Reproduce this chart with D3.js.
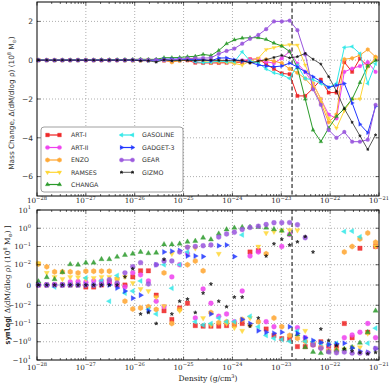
<!DOCTYPE html>
<html><head><meta charset="utf-8">
<script src="https://cdn.jsdelivr.net/npm/d3@7"></script>
<style>body{margin:0;background:#fff}svg{display:block}</style>
</head><body><svg id="c" width="390" height="387"></svg>
<script>
// ---------------- data ----------------
const logDensity = [-27.97,-27.80,-27.64,-27.48,-27.32,-27.16,-27.00,-26.84,-26.68,-26.52,-26.36,-26.20,-26.04,-25.88,-25.72,-25.56,-25.40,-25.24,-25.08,-24.92,-24.76,-24.60,-24.44,-24.28,-24.12,-23.96,-23.80,-23.64,-23.47,-23.31,-23.15,-22.99,-22.83,-22.67,-22.51,-22.35,-22.19,-22.03,-21.87,-21.71,-21.55,-21.39,-21.23,-21.07];
const codeNames = ["ART-I","ART-II","ENZO","RAMSES","CHANGA","GASOLINE","GADGET-3","GEAR","GIZMO"];
const artI = [0,0,0,0,0,0,-0.001,-0.001,0,0.0015,0,0,0.004,0.007,0.007,-0.005,-0.02,-0.06,-0.014,-0.009,-0.13,-0.14,-0.14,-0.14,-0.13,-0.12,-0.1,0.05,0.06,-0.2,-0.45,-0.68,-0.72,-1.84,-1.84,-1.45,-1.0,-1.67,-1.67,-0.1,-0.6,0.08,-0.3,0.1];
const artII = [0,0,0,0,0.0015,0.0017,0.0014,0.002,0.002,0.001,0,-0.001,0.006,0.005,0.002,-0.008,-0.012,0.004,0.01,0.04,-0.05,-0.002,-0.009,-0.04,-0.03,-0.08,-0.003,0.03,0.05,-0.08,-0.15,0.1,0.45,-0.17,-0.6,-1.2,-2.0,-2.8,-3.0,-0.6,-0.43,-0.3,-0.1,-0.6];
const enzo = [0.011,0.009,0.0065,0.0065,0.0065,0.006,0.0068,0.0068,0.0068,0.0068,0.003,-0.008,-0.016,-0.014,-0.012,-0.017,0.006,-0.1,-0.017,0.01,0.016,0.007,-0.025,-0.09,-0.08,-0.1,-0.06,-0.12,-0.08,0.04,-0.05,-0.15,-0.45,-0.65,-0.95,-1.4,-2.2,-3.2,-2.8,0.05,0.1,0.26,0.55,0.17];
const ramses = [0.012,0.006,0.004,0.003,0.0039,0.0038,0.003,0.0035,0.004,0.004,0.003,0.004,0.001,-0.002,-0.003,-0.006,-0.011,0.04,-0.02,0.09,0.08,-0.05,-0.12,0.04,-0.1,-0.17,-0.25,-0.05,0.1,0.55,0.65,0.75,0.8,0.78,-0.25,-1.2,-2.0,-3.0,-3.5,-2.6,-2.0,-2.0,-0.35,0.1];
const changa = [0.0017,0.0038,0.0028,0.0063,0.0105,0.01,0.013,0.013,0.02,0.02,0.027,0.034,0.04,0.05,0.042,0.045,0.13,0.13,0.14,0.18,0.2,0.3,0.24,0.5,0.85,1.05,1.14,1.16,1.16,1.07,0.88,0.73,0.45,-0.4,-2.0,-3.6,-4.2,-3.5,-2.9,-2.5,-2.0,-1.15,-0.3,-0.02];
const gasoline = [0,0,-0.001,0,0,0,0.0035,0,0.002,-0.008,0.0047,-0.004,-0.003,0.002,-0.017,-0.03,0.01,-0.0016,0.01,0.05,-0.08,-0.12,-0.1,-0.05,-0.08,-0.08,0.43,-0.04,-0.15,-0.45,-0.65,-0.75,-0.94,-0.26,-0.95,-1.0,-1.2,-1.4,-1.2,0.66,0.7,0.34,-1.2,-0.18];
const gadget3 = [0,0,0,0,0,0,0,0,0,0,-0.0015,-0.003,-0.0065,-0.005,-0.02,0.01,0.05,0.055,0.06,0.03,0.03,0.028,-0.03,0.11,0.12,0.028,-0.06,-0.1,-0.25,-0.3,-0.34,-0.3,-0.15,-0.35,-0.6,-0.85,-1.1,-1.4,-1.3,-1.2,-2.2,-3.3,-3.74,-2.38];
const gear = [0,0,0,0,0,0,0,0,0.0005,0.0026,0.001,0.006,0.009,0.013,0.0005,0.01,0.016,0.016,0.05,0.09,0.1,0.11,0.12,0.33,0.48,0.6,0.85,1.1,1.3,1.6,2.0,2.0,2.04,1.55,0.3,-1.5,-2.3,-3.6,-4.0,-3.7,-4.2,-4.2,-4.1,-2.3];
const gizmo = [0,0,0,0,0,0,0,0,0,0,0,0.004,0.008,-0.03,-0.025,-0.1,0.02,-0.03,-0.008,-0.007,-0.025,-0.004,0.0005,-0.008,-0.012,-0.006,-0.006,-0.14,-0.05,0.03,0.14,0.25,0.12,0.18,0.35,0.05,-0.2,-0.85,-1.6,-2.5,-3.2,-3.9,-4.6,-3.85];
const seriesValues = [artI, artII, enzo, ramses, changa, gasoline, gadget3, gear, gizmo];
const refLogDensity = -22.78;
const topYTicks = [2, 0, -2, -4, -6];
const symTicks = [10, 1, 0.1, 0.01, 0, -0.01, -0.1, -1, -10];
const symTickLabels = [["10","1"],["10","0"],["10","-1"],["10","-2"],["0",""],["-10","-2"],["-10","-1"],["-10","0"],["-10","1"]];
const xDecades = [-28,-27,-26,-25,-24,-23,-22,-21];

// ---------------- styles ----------------
const colors = ["#ee2020","#ee40ee","#ffa52e","#ffd633","#2a9a2a","#30e8e8","#2035ff","#9955dd","#111111"];
const markers = ["square","circle","hexagon","tridown","triup","trileft","triright","circle","star"];
const markerScale = {square:1, circle:1, hexagon:1, tridown:0.6, triup:0.6, trileft:0.6, triright:0.6, star:0.2};

const svg = d3.select("#c");
svg.append("rect").attr("width",390).attr("height",387).attr("fill","#fff");

const L = 37, R = 379;
const x = d3.scaleLog().domain([1e-28,1e-21]).range([L,R]);
const yTop = d3.scaleLinear().domain([-7,3]).range([196,2]);
const LT = 0.01, LS = 1/(1-0.1);
function symT(v){const a=Math.abs(v); return a<=LT ? v/LT*LS : Math.sign(v)*(LS+Math.log10(a/LT));}
const yBotT = d3.scaleLinear().domain([-(LS+3),LS+3]).range([360,210]);
const yBot = v => yBotT(symT(v));

const hexagon = {draw(ctx,size){const r=Math.sqrt(size/(1.5*Math.sqrt(3)));for(let k=0;k<6;k++){const a=Math.PI/6+k*Math.PI/3;const px=r*Math.cos(a),py=r*Math.sin(a);k?ctx.lineTo(px,py):ctx.moveTo(px,py);}ctx.closePath();}};
function symbolFor(m,size){
  const t = m==="square"?d3.symbolSquare: m==="circle"?d3.symbolCircle: m==="hexagon"?hexagon: m==="star"?d3.symbolStar: d3.symbolTriangle;
  return d3.symbol().type(t).size(size*markerScale[m])();
}
function rotFor(m){return m==="tridown"?180:m==="trileft"?-90:m==="triright"?90:0;}

function drawMarker(g, m, cx, cy, size, color, op){
  g.append("path").attr("d",symbolFor(m,size))
   .attr("transform",`translate(${cx},${cy}) rotate(${rotFor(m)})`)
   .attr("fill",color).attr("fill-opacity",op).attr("stroke",color).attr("stroke-width",m==="star"?0.5:0.3);
}

const serif = "'DejaVu Serif', serif";
const sans = "'DejaVu Sans', sans-serif";

function panelFrame(top, bottom, yTicksPx){
  const g = svg.append("g");
  xDecades.forEach(d=>{
    const px = x(Math.pow(10,d));
    if(px>L+1 && px<R-1) g.append("line").attr("x1",px).attr("x2",px).attr("y1",top).attr("y2",bottom)
      .attr("stroke","#999").attr("stroke-width",0.8).attr("stroke-dasharray","1,2");
  });
  yTicksPx.forEach(py=>{
    if(py>top+1 && py<bottom-1) g.append("line").attr("x1",L).attr("x2",R).attr("y1",py).attr("y2",py)
      .attr("stroke","#999").attr("stroke-width",0.8).attr("stroke-dasharray","1,2");
  });
  return g;
}
function panelAxes(top, bottom, yTicksPx, labelDy){
  const g = svg.append("g");
  for(let d=-28; d<=-21; d++){
    for(let k=1;k<=9;k++){
      if(d===-21 && k>1) break;
      const px = x(k*Math.pow(10,d));
      const len = k===1?3.5:2;
      g.append("line").attr("x1",px).attr("x2",px).attr("y1",bottom).attr("y2",bottom-len).attr("stroke","#000").attr("stroke-width",0.6);
      g.append("line").attr("x1",px).attr("x2",px).attr("y1",top).attr("y2",top+len).attr("stroke","#000").attr("stroke-width",0.6);
    }
  }
  yTicksPx.forEach(py=>{
    g.append("line").attr("x1",L).attr("x2",L+3.5).attr("y1",py).attr("y2",py).attr("stroke","#000").attr("stroke-width",0.6);
    g.append("line").attr("x1",R).attr("x2",R-3.5).attr("y1",py).attr("y2",py).attr("stroke","#000").attr("stroke-width",0.6);
  });
  g.append("rect").attr("x",L).attr("y",top).attr("width",R-L).attr("height",bottom-top)
   .attr("fill","none").attr("stroke","#000").attr("stroke-width",1);
  xDecades.forEach(d=>{
    const t = g.append("text").attr("x",x(Math.pow(10,d))).attr("y",bottom+labelDy)
      .attr("text-anchor","middle").attr("font-family",serif).attr("font-size",7.2).attr("fill","#222");
    t.append("tspan").text("10");
    t.append("tspan").attr("dy",-3.3).attr("font-size",5.2).text("\u2212"+(-d));
  });
  return g;
}

// ---------- TOP PANEL ----------
const topTickPx = topYTicks.map(v=>yTop(v));
panelFrame(2,196,topTickPx);
svg.append("line").attr("x1",x(Math.pow(10,refLogDensity))).attr("x2",x(Math.pow(10,refLogDensity)))
  .attr("y1",2).attr("y2",196).attr("stroke","#000").attr("stroke-width",1).attr("stroke-dasharray","4,2.5");
const lineTop = d3.line().x((d,i)=>x(Math.pow(10,logDensity[i]))).y(d=>yTop(d));
seriesValues.forEach((vals,si)=>{
  const g = svg.append("g");
  g.append("path").attr("d",lineTop(vals)).attr("fill","none").attr("stroke",colors[si])
    .attr("stroke-width", si===8?0.7:1);
  vals.forEach((v,i)=>drawMarker(g, markers[si], x(Math.pow(10,logDensity[i])), yTop(v), 11, colors[si], 0.9));
});
panelAxes(2,196,topTickPx,7.3);
topYTicks.forEach(v=>{
  svg.append("text").attr("x",33).attr("y",yTop(v)+2.7).attr("text-anchor","end")
   .attr("font-family",sans).attr("font-size",7.5).attr("fill","#333").text(v<0?"\u2212"+(-v):String(v));
});
{
  const t = svg.append("text").attr("transform","translate(14,103) rotate(-90)").attr("text-anchor","middle")
    .attr("font-family",sans).attr("font-size",7.3).attr("fill","#333");
  t.append("tspan").text("Mass Change, \u0394(dM/dlog \u03c1) (10");
  t.append("tspan").attr("dy",-3).attr("font-size",5).text("8");
  t.append("tspan").attr("dy",3).text(" M");
  t.append("tspan").attr("dy",1.5).attr("font-size",5).text("\u2299");
  t.append("tspan").attr("dy",-1.5).text(")");
}
// legend
{
  const g = svg.append("g");
  g.append("rect").attr("x",41).attr("y",127).attr("width",142).attr("height",65).attr("rx",3)
   .attr("fill","#fff").attr("stroke","#888").attr("stroke-width",0.8);
  const rowY = [135,147.5,160,172.3,184.5];
  codeNames.forEach((n,si)=>{
    const col = si<5?0:1, row = si<5?si:si-5;
    const x0 = col?120:46, x1 = col?134:61, tx = col?142:71, yy = rowY[row];
    g.append("line").attr("x1",x0).attr("x2",x1).attr("y1",yy).attr("y2",yy).attr("stroke",colors[si]).attr("stroke-width",si===8?0.7:1.2);
    drawMarker(g, markers[si], x0+1.5, yy, 14, colors[si], 0.9);
    drawMarker(g, markers[si], x1-1.5, yy, 14, colors[si], 0.9);
    g.append("text").attr("x",tx).attr("y",yy+2.3).attr("font-family",sans).attr("font-size",6.3).attr("fill","#333").text(n);
  });
}

// ---------- BOTTOM PANEL ----------
const botTickPx = symTicks.map(v=>yBot(v));
panelFrame(210,360,botTickPx);
svg.append("line").attr("x1",x(Math.pow(10,refLogDensity))).attr("x2",x(Math.pow(10,refLogDensity)))
  .attr("y1",210).attr("y2",360).attr("stroke","#000").attr("stroke-width",1).attr("stroke-dasharray","4,2.5");
seriesValues.forEach((vals,si)=>{
  const g = svg.append("g");
  vals.forEach((v,i)=>drawMarker(g, markers[si], x(Math.pow(10,logDensity[i])), yBot(v), 19, colors[si], 0.85));
});
panelAxes(210,360,botTickPx,9.5);
symTicks.forEach((v,k)=>{
  const t = svg.append("text").attr("x",31).attr("y",yBot(v)+2.7).attr("text-anchor","end")
   .attr("font-family",serif).attr("font-size",7.2).attr("fill","#222");
  const lab = symTickLabels[k];
  t.append("tspan").text(lab[0].replace("-","\u2212"));
  if(lab[1]) t.append("tspan").attr("dy",-3.3).attr("font-size",5.2).text(lab[1].replace("-","\u2212"));
});
{
  const t = svg.append("text").attr("transform","translate(10,285) rotate(-90)").attr("text-anchor","middle")
    .attr("font-family",serif).attr("font-size",7.3).attr("fill","#222");
  t.append("tspan").attr("font-family","'DejaVu Sans Mono', monospace").attr("font-weight","bold").text("symlog");
  t.append("tspan").text("[ \u0394(dM/dlog \u03c1) (10");
  t.append("tspan").attr("dy",-3).attr("font-size",5).text("8");
  t.append("tspan").attr("dy",3).text(" M");
  t.append("tspan").attr("dy",1.5).attr("font-size",5).text("\u2299");
  t.append("tspan").attr("dy",-1.5).text(") ]");
}
{
  const t = svg.append("text").attr("x",208).attr("y",381).attr("text-anchor","middle")
    .attr("font-family",serif).attr("font-size",7.5).attr("fill","#222");
  t.append("tspan").text("Density (g/cm");
  t.append("tspan").attr("dy",-3).attr("font-size",5).text("3");
  t.append("tspan").attr("dy",3).text(")");
}
</script></body></html>
